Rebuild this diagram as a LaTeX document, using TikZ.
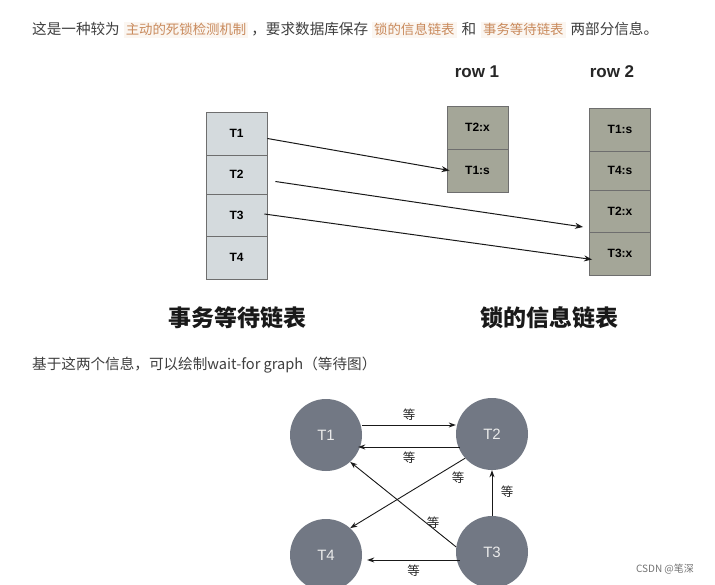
\documentclass[tikz,border=0pt]{standalone}
\usepackage{fontspec}
\setmainfont{Liberation Sans}
\newfontfamily\cjk{Noto Sans CJK SC}
\usetikzlibrary{calc,arrows.meta}
\definecolor{txt}{HTML}{3F3F3F}
\definecolor{orng}{HTML}{C98A5C}
\definecolor{hl}{HTML}{FBF6F1}
\definecolor{lfill}{HTML}{D4DADD}
\definecolor{rfill}{HTML}{A4A698}
\definecolor{cfill}{HTML}{727884}
\definecolor{bord}{HTML}{6E6E6E}
\tikzset{
  lcell/.style={draw=bord,fill=lfill,line width=0.9pt,minimum width=61pt,inner sep=0pt,font=\fontsize{12}{12}\selectfont\bfseries},
  rcell/.style={draw=bord,fill=rfill,line width=0.9pt,minimum width=61pt,inner sep=0pt,font=\fontsize{12}{12}\selectfont\bfseries},
  arr/.style={-{Stealth[length=8pt,width=6pt]},line width=1pt,black!90},
  garr/.style={-{Stealth[length=7pt,width=5pt]},line width=0.9pt,black!90},
  circ/.style={circle,fill=cfill,minimum size=72pt,inner sep=0pt,text=white!92!black,font=\fontsize{15}{15}\selectfont},
  deng/.style={font=\cjk\fontsize{12.5}{12}\selectfont,text=black!85},
  hdr/.style={font=\cjk\fontsize{23}{23}\selectfont\bfseries,text=black!90},
  rowlab/.style={font=\fontsize{17}{17}\selectfont\bfseries,text=black!85},
  orn/.style={fill=hl,text=orng,inner xsep=2pt,inner ysep=2pt,font=\cjk\fontsize{13.4}{13}\selectfont}
}
\begin{document}
\begin{tikzpicture}[x=1pt,y=-1pt]
\useasboundingbox[fill=white] (0,0) rectangle (715,585);
% top line
\node[anchor=base west,inner sep=0pt,text=txt,font=\cjk\fontsize{14.6}{15}\selectfont] (l1) at (32,35)
 {这是一种较为\hspace{4pt}\tikz[baseline]\node[orn,anchor=base]{主动的死锁检测机制};\hspace{3pt}，要求数据库保存\hspace{4pt}\tikz[baseline]\node[orn,anchor=base]{锁的信息链表};\hspace{5pt}和\hspace{5pt}\tikz[baseline]\node[orn,anchor=base]{事务等待链表};\hspace{5pt}两部分信息。};
% left table
\node[lcell,minimum height=43pt] (a1) at (236.5,133.5) {T1};
\node[lcell,minimum height=39pt] (a2) at (236.5,174.5) {T2};
\node[lcell,minimum height=42pt] (a3) at (236.5,215) {T3};
\node[lcell,minimum height=43pt] (a4) at (236.5,257.5) {T4};
% row1
\node[rowlab] (h1) at (477,72) {row 1};
\node[rcell,minimum height=43pt] (b1) at (477.5,127.5) {T2:x};
\node[rcell,minimum height=43pt] (b2) at (477.5,170.5) {T1:s};
% row2
\node[rowlab] (h2) at (612,72) {row 2};
\node[rcell,minimum height=43pt] (c1) at (620,129.5) {T1:s};
\node[rcell,minimum height=39pt] (c2) at (620,170.5) {T4:s};
\node[rcell,minimum height=42pt] (c3) at (620,211) {T2:x};
\node[rcell,minimum height=43pt] (c4) at (620,253.5) {T3:x};
% arrows
\draw[arr] ($(a1.east)+(0,5)$) -- ($(b2.west)+(3,0)$);
\draw[arr] ($(a2.east)+(8,7)$) -- ($(c3.west)+(-6,16)$);
\draw[arr] ($(a3.east)+(-3,-1)$) -- ($(c4.west)+(3,6)$);
% headers
\node[hdr] (t1) at (237,318) {事务等待链表};
\node[hdr] (t2) at (549,318) {锁的信息链表};
% second line
\node[anchor=base west,inner sep=0pt,text=txt,font=\cjk\fontsize{14.6}{15}\selectfont] (l2) at (32,370) {基于这两个信息，可以绘制wait-for graph（等待图）};
% graph
\node[circ] (g1) at (326,435) {T1};
\node[circ] (g2) at (492,434) {T2};
\node[circ] (g4) at (326,555) {T4};
\node[circ] (g3) at (492,552) {T3};
\draw[garr] (g1.east|-0,425) -- (g2.west|-0,425) node[deng,midway,above=1pt] {等};
\draw[garr] ($(g2.west|-0,447)+(4,0)$) -- ($(g1.east|-0,447)+(-4,0)$) node[deng,midway,below=1pt] {等};
\draw[garr] (g2.222) -- (g4.48) ;
\node[deng] (e3) at (458,478) {等};
\draw[garr] (g3.172) -- (g1.312);
\node[deng] (e4) at (433,523) {等};
\draw[garr] (g3.north) -- (g2.south);
\node[deng] (e5) at (507,492) {等};
\draw[garr] ($(g3.west|-0,560)+(4,0)$) -- ($(g4.east|-0,560)+(5,0)$) node[deng,midway,below=1pt] {等};
% watermark
\node[font=\cjk\fontsize{10}{10}\selectfont,text=black!55] (wm) at (665,569) {CSDN @笔深};
\end{tikzpicture}
\end{document}
